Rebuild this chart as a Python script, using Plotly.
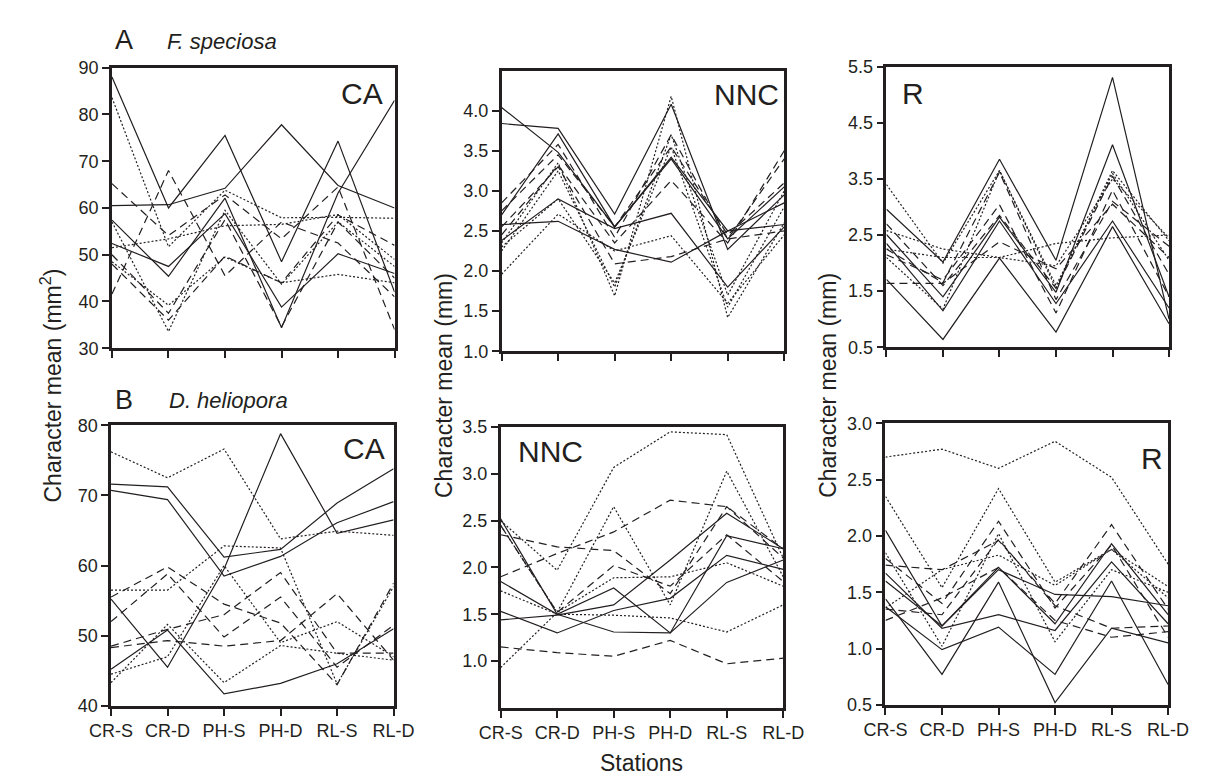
import plotly.graph_objects as go

stations = ["CR-S", "CR-D", "PH-S", "PH-D", "RL-S", "RL-D"]

# ---------------- A: F. speciosa ----------------
fs_ca_solid = [
    [88.0, 60.0, 75.5, 48.5, 74.3, 42.0],
    [60.5, 60.7, 64.2, 77.8, 64.8, 60.0],
    [57.4, 45.4, 62.1, 34.4, 63.2, 83.0],
    [52.4, 47.5, 58.8, 38.8, 50.2, 46.0],
]
fs_ca_dash = [
    [41.6, 68.0, 45.5, 57.0, 52.5, 41.0],
    [65.2, 54.1, 62.8, 53.4, 64.5, 34.0],
    [50.0, 37.5, 57.5, 34.6, 57.0, 45.0],
    [48.0, 36.0, 49.7, 44.0, 58.5, 52.0],
]
fs_ca_dot = [
    [83.6, 51.7, 63.8, 57.9, 58.0, 57.8],
    [51.5, 53.4, 56.2, 56.5, 58.6, 49.0],
    [57.0, 33.6, 59.5, 43.7, 57.0, 47.5],
    [48.5, 39.2, 49.5, 44.0, 45.8, 44.0],
]

fs_nnc_solid = [
    [3.84, 3.78, 2.71, 4.08, 2.27, 2.95],
    [4.04, 3.48, 2.55, 3.42, 2.50, 2.85],
    [2.70, 3.71, 2.55, 3.40, 2.40, 3.05],
    [2.58, 2.62, 2.27, 2.11, 2.50, 2.58],
    [2.38, 2.90, 2.53, 2.72, 1.80, 2.55],
]
fs_nnc_dash = [
    [2.85, 3.58, 2.42, 3.70, 2.40, 3.40],
    [2.55, 3.30, 2.09, 2.18, 2.40, 2.50],
    [2.75, 3.45, 2.55, 3.55, 2.45, 3.10],
    [2.45, 3.32, 2.35, 3.13, 2.35, 3.50],
]
fs_nnc_dot = [
    [1.96, 2.71, 2.25, 2.44, 1.60, 2.45],
    [2.25, 3.25, 1.80, 3.70, 1.70, 3.00],
    [2.35, 3.35, 1.69, 4.18, 1.42, 2.60],
    [2.30, 2.90, 1.85, 3.55, 1.55, 2.80],
]

fs_r_solid = [
    [1.71, 0.64, 2.09, 0.77, 2.65, 0.92],
    [2.35, 1.15, 2.75, 1.28, 2.75, 1.20],
    [2.51, 1.40, 2.82, 1.48, 4.11, 1.40],
    [2.96, 2.02, 3.85, 2.05, 5.31, 1.00],
]
fs_r_dash = [
    [1.64, 1.64, 2.38, 1.90, 3.05, 2.10],
    [2.15, 1.70, 3.04, 1.11, 3.30, 1.40],
    [2.70, 1.60, 2.85, 1.55, 3.55, 1.80],
    [2.25, 1.65, 3.62, 1.35, 3.10, 2.30],
]
fs_r_dot = [
    [3.40, 2.00, 3.65, 1.55, 3.65, 2.40],
    [2.58, 2.25, 2.10, 2.35, 2.45, 2.50],
    [2.10, 1.18, 3.65, 1.60, 3.60, 2.05],
    [2.25, 2.10, 2.10, 1.95, 3.50, 2.45],
]

# ---------------- B: D. heliopora ----------------
dh_ca_solid = [
    [71.6, 71.2, 61.2, 62.3, 68.9, 73.8],
    [70.7, 69.4, 58.5, 61.3, 66.1, 69.1],
    [55.2, 45.5, 59.5, 78.8, 64.6, 66.5],
    [45.2, 50.8, 41.7, 43.2, 46.0, 51.0],
]
dh_ca_dash = [
    [55.5, 59.8, 54.5, 51.8, 43.0, 57.5],
    [52.0, 58.8, 49.8, 55.5, 45.5, 51.5],
    [48.5, 50.9, 53.0, 59.0, 47.5, 47.5],
    [48.3, 49.3, 48.5, 49.3, 56.0, 46.5],
]
dh_ca_dot = [
    [76.2, 72.5, 76.6, 63.8, 64.9, 64.3],
    [56.5, 56.5, 62.8, 62.5, 43.1, 57.0],
    [43.3, 51.6, 43.3, 48.6, 47.5, 46.5],
    [44.5, 47.0, 60.0, 49.0, 52.0, 47.0],
]

dh_nnc_solid = [
    [2.52, 1.50, 1.31, 1.30, 1.84, 2.08],
    [1.85, 1.50, 1.78, 1.30, 2.34, 2.20],
    [1.53, 1.30, 1.54, 1.67, 2.13, 1.98],
    [1.44, 1.49, 1.60, 2.08, 2.58, 2.20],
]
dh_nnc_dash = [
    [2.35, 2.22, 2.18, 1.72, 2.65, 2.10],
    [1.90, 2.15, 2.38, 2.72, 2.65, 2.20],
    [1.15, 1.09, 1.05, 1.22, 0.97, 1.03],
    [2.45, 1.52, 2.02, 1.80, 2.35, 1.85],
]
dh_nnc_dot = [
    [0.93, 1.52, 1.89, 1.90, 2.05, 1.80],
    [2.50, 1.97, 3.07, 3.45, 3.42, 2.10],
    [1.75, 1.50, 1.49, 1.46, 1.31, 1.60],
    [2.45, 1.52, 2.65, 1.60, 3.03, 1.90],
]

dh_r_solid = [
    [2.05, 1.20, 1.70, 1.48, 1.46, 1.38],
    [1.67, 1.18, 1.30, 1.16, 1.77, 1.22],
    [1.44, 0.77, 1.59, 0.52, 1.18, 1.05],
    [1.37, 0.99, 1.19, 0.77, 1.60, 0.68],
    [1.60, 1.20, 1.72, 1.22, 1.93, 1.30],
]
dh_r_dash = [
    [1.74, 1.70, 1.96, 1.40, 2.10, 1.35],
    [1.80, 1.40, 2.13, 1.36, 1.92, 1.10],
    [1.25, 1.45, 1.72, 1.25, 1.10, 1.15],
    [1.35, 1.30, 1.97, 1.38, 1.18, 1.20],
]
dh_r_dot = [
    [2.70, 2.77, 2.60, 2.84, 2.52, 1.75],
    [2.35, 1.54, 2.42, 1.59, 1.88, 1.55],
    [1.85, 1.02, 2.02, 1.06, 1.70, 1.50],
    [1.36, 1.70, 1.83, 1.56, 1.88, 1.45],
]

# y-axis ticks per panel
ca_a_ticks = [30, 40, 50, 60, 70, 80, 90]
nnc_a_ticks = [1.0, 1.5, 2.0, 2.5, 3.0, 3.5, 4.0]
r_a_ticks = [0.5, 1.5, 2.5, 3.5, 4.5, 5.5]
ca_b_ticks = [40, 50, 60, 70, 80]
nnc_b_ticks = [1.0, 1.5, 2.0, 2.5, 3.0, 3.5]
r_b_ticks = [0.5, 1.0, 1.5, 2.0, 2.5, 3.0]

W, H = 1210, 776
INK = "#231f20"
FONT = "Liberation Sans, Arial, Helvetica, sans-serif"

def xdom(l, r):
    return [l / W, r / W]

def ydom(top, bottom):
    return [1 - bottom / H, 1 - top / H]

panels = [
    (fs_ca_solid, fs_ca_dash, fs_ca_dot, (85, 378), (51, 339), [30, 90], ca_a_ticks, "d", False),
    (fs_nnc_solid, fs_nnc_dash, fs_nnc_dot, (489, 782), (54, 342), [1.0, 4.5], nnc_a_ticks, ".1f", False),
    (fs_r_solid, fs_r_dash, fs_r_dot, (888, 1181), (50, 338), [0.5, 5.5], r_a_ticks, ".1f", False),
    (dh_ca_solid, dh_ca_dash, dh_ca_dot, (84, 377), (418, 706), [40, 80], ca_b_ticks, "d", True),
    (dh_nnc_solid, dh_nnc_dash, dh_nnc_dot, (488, 781), (420, 708), [0.5, 3.5], nnc_b_ticks, ".1f", True),
    (dh_r_solid, dh_r_dash, dh_r_dot, (887, 1180), (416, 705), [0.5, 3.0], r_b_ticks, ".1f", True),
]

fig = go.Figure()
styles = [("solid", 1.2), ("8px,5px", 1.2), ("2px,2px", 1.2)]

layout = dict(
    width=W, height=H,
    margin=dict(l=0, r=0, t=0, b=0),
    paper_bgcolor="white", plot_bgcolor="white",
    showlegend=False,
    font=dict(family=FONT, color=INK),
)

for i, (sol, das, dot, xd, yd, yr, tv, fmt, xlab) in enumerate(panels):
    n = "" if i == 0 else str(i + 1)
    xa, ya = "x" + n, "y" + n
    for group, (dash, w) in zip((sol, das, dot), styles):
        for series in group:
            fig.add_trace(go.Scatter(
                x=stations, y=series, xaxis=xa, yaxis=ya, mode="lines",
                line=dict(color=INK, width=w, dash=dash), hoverinfo="skip"))
    layout["xaxis" + n] = dict(
        domain=xdom(*xd), anchor=ya, type="category",
        categoryorder="array", categoryarray=stations, range=[0, 5],
        showline=True, linewidth=2.5, linecolor=INK, mirror=True,
        ticks="outside", ticklen=7, tickwidth=2, tickcolor=INK,
        showgrid=False, zeroline=False, showticklabels=xlab,
        tickfont=dict(size=18, family=FONT, color=INK),
    )
    layout["yaxis" + n] = dict(
        domain=ydom(*yd), anchor=xa, range=yr,
        showline=True, linewidth=2.5, linecolor=INK, mirror=True,
        ticks="outside", ticklen=7, tickwidth=2, tickcolor=INK,
        showgrid=False, zeroline=False,
        tickvals=tv, tickformat=fmt,
        tickfont=dict(size=18, family=FONT, color=INK),
    )

fig.update_layout(**layout)

def ann(text, xpx, ypx, size, xanchor="left", angle=0, italic=False):
    fig.add_annotation(
        text=text, x=xpx / W, y=1 - ypx / H, xref="paper", yref="paper",
        xanchor=xanchor, yanchor="middle", showarrow=False, textangle=angle,
        font=dict(size=size, family=FONT, color=INK,
                  style="italic" if italic else "normal"))

ann("A", 86, 23, 27)
ann("F. speciosa", 140, 24, 22, italic=True)
ann("B", 86, 392, 27)
ann("D. heliopora", 142, 393, 22, italic=True)

ann("CA", 320, 78, 30)
ann("NNC", 707, 79, 30)
ann("R", 902, 78, 30)
ann("CA", 322, 442, 30)
ann("NNC", 504, 445, 30)
ann("R", 1150, 452, 30)

ann("Character mean (mm<sup>2</sup>)", 22, 377, 23, xanchor="center", angle=-90)
ann("Character mean (mm)", 430, 377, 23, xanchor="center", angle=-90)
ann("Character mean (mm)", 828, 377, 23, xanchor="center", angle=-90)
ann("Stations", 634, 765, 23, xanchor="center")

fig.write_html("out.html")
